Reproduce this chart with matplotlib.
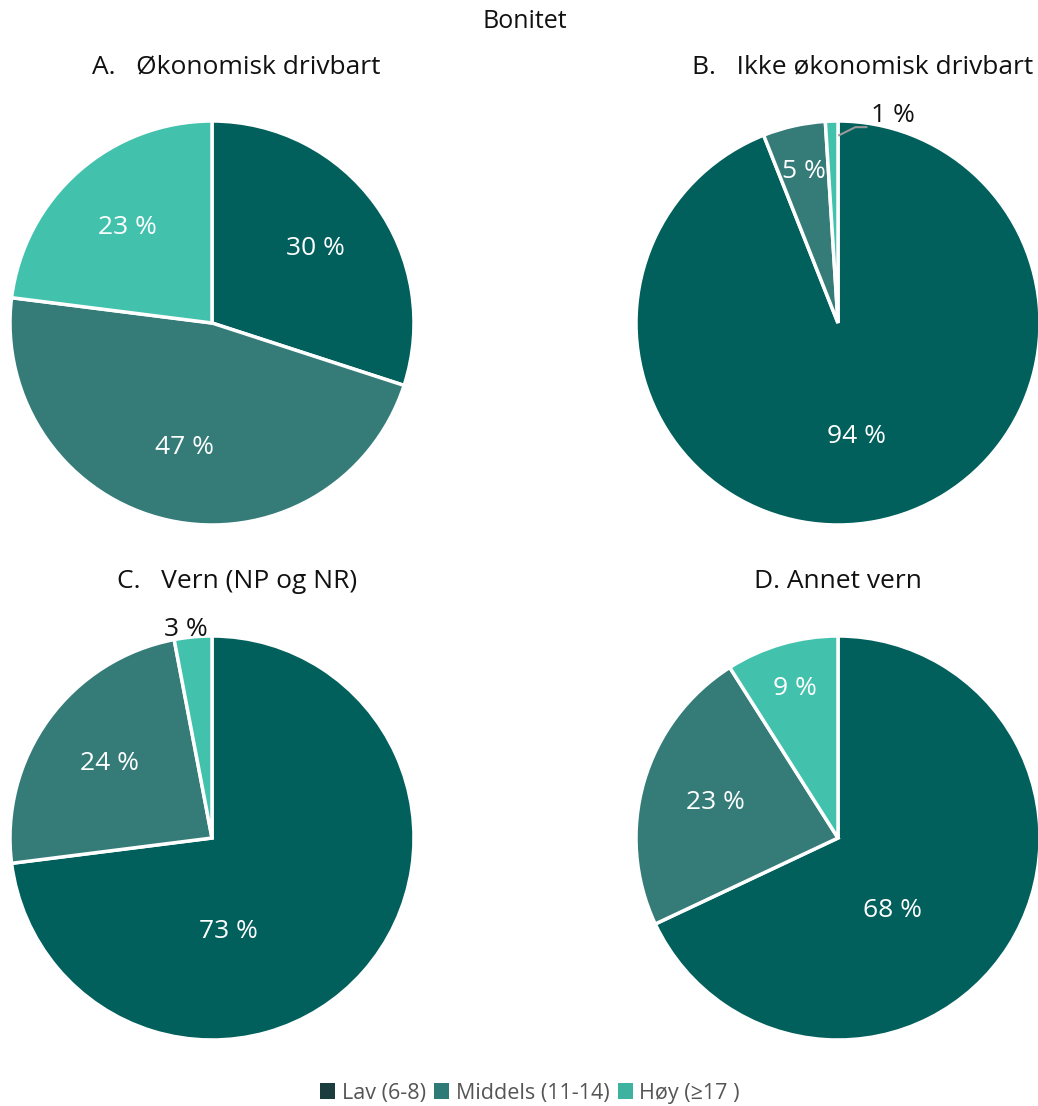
import matplotlib.pyplot as plt
from matplotlib.patches import Patch
import numpy as np

plt.rcParams['font.family'] = ['Open Sans', 'DejaVu Sans']

categories = ['Lav (6-8)', 'Middels (11-14)', 'Høy (≥17 )']
titles = ['A.   Økonomisk drivbart', 'B.   Ikke økonomisk drivbart',
          'C.   Vern (NP og NR)', 'D. Annet vern']
values_a = [30, 47, 23]
values_b = [94, 5, 1]
values_c = [73, 24, 3]
values_d = [68, 23, 9]

pie_colors = ['#015f5c', '#357c79', '#42c2ad']
legend_colors = ['#1c3d3d', '#2e7a76', '#3db39f']

W, H = 1038, 1106
fig = plt.figure(figsize=(W / 100, H / 100), dpi=100)

R = 202
pad = 1.1
centers = [(212, 323), (838, 323), (212, 838), (838, 838)]
title_pos = [(236, 67, 'center'), (692, 67, 'left'), (237, 582, 'center'), (838, 582, 'center')]
# label placement (angle clockwise from top, radius) for the biggest slice
big_label = [None, (171, 0.57), (170, 0.47), (143, 0.45)]
all_values = [values_a, values_b, values_c, values_d]

for k, (vals, (cx, cy)) in enumerate(zip(all_values, centers)):
    rr = R * pad
    ax = fig.add_axes([(cx - rr) / W, 1 - (cy + rr) / H, 2 * rr / W, 2 * rr / H])
    wedges, _ = ax.pie(vals, colors=pie_colors, startangle=90, counterclock=False,
                       wedgeprops=dict(edgecolor='white', linewidth=2.5))
    ax.set_xlim(-pad, pad)
    ax.set_ylim(-pad, pad)
    ax.axis('off')
    for w, v in zip(wedges, vals):
        ang = np.deg2rad((w.theta1 + w.theta2) / 2)
        if v > 50 and big_label[k] is not None:
            a, r = big_label[k]
            a = np.deg2rad(90 - a)
            ax.text(r * np.cos(a), r * np.sin(a), f'{v} %', color='white',
                    ha='center', va='center', fontsize=19)
        elif v >= 15:
            ax.text(0.63 * np.cos(ang), 0.63 * np.sin(ang), f'{v} %', color='white',
                    ha='center', va='center', fontsize=19)
        elif v >= 5:
            ax.text(0.77 * np.cos(ang), 0.77 * np.sin(ang), f'{v} %', color='white',
                    ha='center', va='center', fontsize=19)
        elif v >= 3:
            ax.text(1.035 * np.cos(ang) - 0.03, 1.035 * np.sin(ang), f'{v} %', color='#111111',
                    ha='center', va='center', fontsize=19, clip_on=False)
        else:
            # small slice: leader line out to the right, label above it
            x0, y0 = 0.93 * np.cos(ang) + 0.035, 0.93 * np.sin(ang)
            x1, y1 = x0 + 0.08, y0 + 0.04
            x2 = x1 + 0.055
            ax.plot([x0, x1, x2], [y0, y1, y1], color='#999999', lw=1.5, clip_on=False)
            ax.text(x2 + 0.13, y1 + 0.06, f'{v} %', color='#111111',
                    ha='center', va='center', fontsize=19, clip_on=False)
    tx, ty, tha = title_pos[k]
    fig.text(tx / W, 1 - ty / H, titles[k], ha=tha, va='center', fontsize=19, color='#111111')

fig.text(525 / W, 1 - 22 / H, 'Bonitet', ha='center', va='center', fontsize=18, color='#111111')

handles = [Patch(facecolor=c, edgecolor='none') for c in legend_colors]
fig.legend(handles, categories, loc='center', bbox_to_anchor=(530 / W, 1 - 1093 / H),
           ncol=3, frameon=False, fontsize=15.5, labelcolor='#555555',
           handlelength=0.7, handleheight=0.7, handletextpad=0.3, columnspacing=0.4)

fig.savefig('out.png', dpi=100)
